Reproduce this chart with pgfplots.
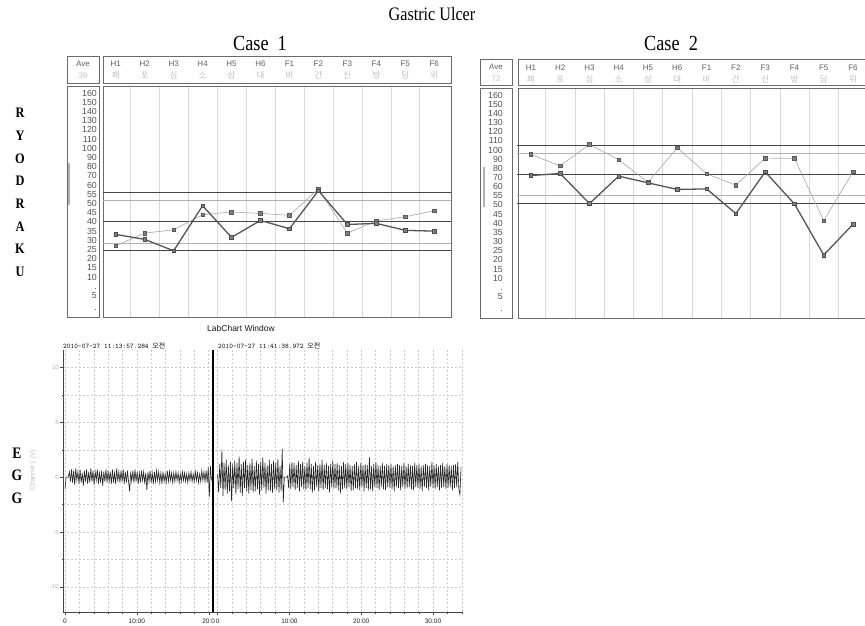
\documentclass[border=0pt]{standalone}
\usepackage{fontspec}
\setmainfont{Liberation Sans}
\newfontfamily\titlefont{Liberation Serif}[FakeStretch=0.85]
\newfontfamily\kr{Noto Sans CJK KR}
\usepackage{pgfplots}
\pgfplotsset{compat=1.18}
\definecolor{darkser}{HTML}{555555}
\definecolor{lightser}{HTML}{A8A8A8}
\definecolor{boxc}{HTML}{6A6A6A}
\newcommand{\hk}[2]{\textcolor{gray!75!black}{#1}\\\textcolor{gray!50}{\kr\fontsize{8.5}{8.5}\selectfont #2}}
\pgfplotsset{
  ryo/.style={
    scale only axis, anchor=south west,
    xmin=-0.44, xmax=11.58, ymin=-0.9, ymax=166.5,
    y coord trafo/.code={\pgfmathparse{##1>=60 ? 12+(##1-60)/10 : (##1>=10 ? ##1/5 : (2*##1-10)/5)}},
    axis line style={boxc, line width=1pt},
    major tick length=0pt, minor tick length=0pt,
    xtick={0,...,11},
    xticklabels={{\hk{H1}{폐}},{\hk{H2}{포}},{\hk{H3}{심}},{\hk{H4}{소}},{\hk{H5}{삼}},{\hk{H6}{대}},{\hk{F1}{비}},{\hk{F2}{간}},{\hk{F3}{신}},{\hk{F4}{방}},{\hk{F5}{담}},{\hk{F6}{위}}},
    xticklabel pos=upper,
    xticklabel style={font=\fontsize{8}{12}\selectfont, align=center, anchor=north, inner sep=0pt},
    minor xtick={0.5,1.5,...,10.5},
    xminorgrids, minor grid style={gray!30, line width=0.5pt},
    ytick={1.82,5,7.55,10,15,20,25,30,35,40,45,50,55,60,70,80,90,100,110,120,130,140,150,160},
    yticklabels={.,5,.,10,15,20,25,30,35,40,45,50,55,60,70,80,90,100,110,120,130,140,150,160},
    yticklabel style={font=\fontsize{8.8}{8.8}\selectfont, text=gray!65!black, anchor=east, inner sep=0pt, text height=6.3pt, text depth=0pt},
    clip=false,
  },
  darkl/.style={color=darkser, line width=1.3pt, mark=square*, mark size=1.8pt, mark options={fill=gray, draw=black!70, line width=0.5pt}},
  lightl/.style={color=lightser, line width=0.6pt, mark=square*, mark size=1.8pt, mark options={fill=gray, draw=black!65, line width=0.5pt}},
  darkref/.style={color=gray!55!black, line width=0.7pt, forget plot},
  lightref/.style={color=gray!60, line width=0.6pt, forget plot},
}
\begin{document}
\begin{tikzpicture}[x=1pt,y=1pt]
\path[use as bounding box] (0,0) rectangle (865,625);
\clip (0,0) rectangle (865,625);
\fill[white] (0,0) rectangle (865,625);

% Titles
\node[font=\titlefont\fontsize{19}{19}\selectfont] at (432,611) {Gastric Ulcer};
\node[font=\titlefont\fontsize{21.5}{21.5}\selectfont] at (260,582) {Case\ \ 1};
\node[font=\titlefont\fontsize{21.5}{21.5}\selectfont] at (671,582) {Case\ \ 2};

% RYODRAKU / EGG labels
\foreach \L [count=\i from 0] in {R,Y,O,D,R,A,K,U}
  \node[font=\titlefont\bfseries\fontsize{14.5}{14.5}\selectfont] at (20,{512-22.7*\i}) {\L};
\foreach \L [count=\i from 0] in {E,G,G}
  \node[font=\titlefont\bfseries\fontsize{16}{16}\selectfont] at (17,{172-22.5*\i}) {\L};

% ---------------- Case 1 ----------------
\begin{axis}[ryo, at={(103pt,308pt)}, width=348pt, height=230pt,
  yticklabel style={xshift=-6pt}, xticklabel style={yshift=26pt}]
\addplot[darkref] coordinates {(-0.44,55.8) (11.58,55.8)};
\addplot[lightref] coordinates {(-0.44,51.5) (11.58,51.5)};
\addplot[darkref] coordinates {(-0.44,40) (11.58,40)};
\addplot[lightref] coordinates {(-0.44,28.5) (11.58,28.5)};
\addplot[darkref] coordinates {(-0.44,24.2) (11.58,24.2)};
\addplot[lightl] coordinates {(0,26.9) (1,33.8) (2,35.6) (3,43.8) (4,45.3) (5,44.5) (6,43.5) (7,57.8) (8,33.8) (9,40.5) (10,42.7) (11,46.0)};
\addplot[darkl] coordinates {(0,33.1) (1,30.4) (2,24.2) (3,48.7) (4,31.5) (5,40.7) (6,36.2) (7,56.9) (8,38.5) (9,39.1) (10,35.3) (11,34.9)};
\end{axis}
\draw[boxc, line width=1pt] (67,541) rectangle (99,568);
\draw[boxc, line width=1pt] (103,541) rectangle (451,568);
\draw[boxc, line width=1pt] (67,308) rectangle (99,538);
\node[font=\fontsize{8}{8}\selectfont, text=gray!75!black] at (83,561) {Ave};
\node[font=\fontsize{8}{8}\selectfont, text=gray!45] at (83,549) {39};
\draw[gray!60, line width=1.5pt] (69,420) -- (69,462);

% ---------------- Case 2 ----------------
\begin{axis}[ryo, at={(518pt,307pt)}, width=352pt, height=229pt,
  yticklabel style={xshift=-15pt}, xticklabel style={yshift=24pt}]
\addplot[darkref] coordinates {(-0.46,104.9) (11.58,104.9)};
\addplot[lightref] coordinates {(-0.46,96.5) (11.58,96.5)};
\addplot[darkref] coordinates {(-0.46,73.1) (11.58,73.1)};
\addplot[lightref] coordinates {(-0.46,55) (11.58,55)};
\addplot[darkref] coordinates {(-0.46,50.9) (11.58,50.9)};
\addplot[lightl] coordinates {(0,95) (1,82.6) (2,106) (3,89.2) (4,64.7) (5,102.3) (6,73.9) (7,61.5) (8,91) (9,90.7) (10,41.4) (11,76)};
\addplot[darkl] coordinates {(0,72) (1,74.2) (2,50.7) (3,71.3) (4,64) (5,58.4) (6,58.7) (7,45.2) (8,76) (9,50.5) (10,22.6) (11,39.4)};
\end{axis}
\draw[boxc, line width=1pt] (480,539) rectangle (512,565);
\draw[boxc, line width=1pt] (518,539) rectangle (875,565);
\draw[boxc, line width=1pt] (480,307) rectangle (512,536);
\node[font=\fontsize{8}{8}\selectfont, text=gray!75!black] at (496,558) {Ave};
\node[font=\fontsize{8}{8}\selectfont, text=gray!45] at (496,546) {72};
\draw[gray!60, line width=1.5pt] (484,418) -- (484,458);

% ---------------- EGG ----------------
\node[font=\fontsize{8.5}{8.5}\selectfont, text=gray!20!black] at (241,297) {LabChart Window};
\node[font=\fontsize{6.5}{6.5}\selectfont, text=gray!50, rotate=90] at (33,155) {Channel 1 (V)};
\node[anchor=west, inner sep=0pt, font=\ttfamily\fontsize{7}{7}\selectfont, text=gray!10!black] at (63,279) {2010-07-27 11:13:57.284 {\kr 오전}};
\node[anchor=west, inner sep=0pt, font=\ttfamily\fontsize{7}{7}\selectfont, text=gray!10!black] at (218,279) {2010-07-27 11:41:38.972 {\kr 오전}};
\begin{axis}[at={(63pt,13pt)}, anchor=south west, scale only axis, width=400pt, height=262pt,
  xmin=-0.28, xmax=55.43, ymin=-12.3, ymax=11.6,
  axis x line*=bottom, axis y line*=left,
  axis line style={gray!55!black, line width=0.8pt, -},
  xtick={0,10,20,21.25,31.25,41.25,51.25},
  xticklabels={0,10:00,20:0,0,10:00,20:00,30:00},
  minor xtick={2,4,6,8,12,14,16,18,23.25,25.25,27.25,29.25,33.25,35.25,37.25,39.25,43.25,45.25,47.25,49.25,53.25,55.25},
  ytick={-10,-5,0,5,10}, minor ytick={-7.5,-2.5,2.5,7.5},
  grid=both, grid style={dash pattern=on 2pt off 2pt, gray!40, line width=0.4pt},
  major grid style={dash pattern=on 2pt off 2pt, gray!40, line width=0.4pt},
  tick style={gray!55!black}, major tick length=3pt, minor tick length=1.5pt,
  tick align=outside,
  /pgf/number format/assume math mode=true,
  xticklabel style={font=\fontsize{6.5}{6.5}\selectfont, text=gray!30!black},
  yticklabel style={font=\fontsize{6}{6}\selectfont, text=gray!60, inner sep=1pt},
  clip=false,
]
\addplot[color=black!85, line width=0.6pt] table[row sep=\\, x expr=\coordindex*0.15, y=y] {
y\\ -1.1\\ 0\\ 0\\ 0.02\\ 0.5\\ -0.4\\ 0.7\\ -0.5\\ 0.6\\ -0.7\\ 0.8\\ -0.3\\ 0.5\\ -0.6\\ 0.7\\ -0.5\\ 0.4\\ -0.8\\ 0.6\\ -0.4\\
0.7\\ -0.6\\ 0.5\\ -0.5\\ 0.8\\ -0.4\\ 0.6\\ -0.7\\ 0.5\\ -0.3\\ 0.7\\ -0.6\\ 0.4\\ -0.5\\ 0.6\\ -0.8\\ 0.5\\ -0.4\\ 0.7\\ -0.5\\
0.6\\ -0.4\\ 0.5\\ -0.6\\ 0.7\\ -0.5\\ 0.4\\ -0.6\\ 0.8\\ -0.4\\ 0.5\\ -0.5\\ 0.6\\ -0.4\\ 0.7\\ -0.6\\ 0.5\\ -0.5\\ 0.6\\ -0.4\\
-1.3\\ 0.5\\ -0.4\\ 0.6\\ -0.5\\ 0.7\\ -0.4\\ 0.5\\ -0.6\\ 0.4\\ -0.5\\ 0.6\\ -0.3\\ 0.5\\ -0.6\\ 0.4\\ -1.2\\ 0.5\\ -0.4\\ 0.6\\
-0.5\\ 0.4\\ -0.6\\ 0.5\\ -0.4\\ 0.6\\ -0.3\\ 0.5\\ -0.5\\ 0.4\\ -0.6\\ 0.5\\ -0.4\\ 0.3\\ -0.5\\ 0.6\\ -0.4\\ 0.5\\ -0.3\\ 0.4\\
-0.5\\ 0.4\\ -0.4\\ 0.5\\ -0.3\\ 0.4\\ -0.5\\ 0.3\\ -0.4\\ 0.5\\ -0.3\\ 0.4\\ -0.4\\ 0.3\\ -0.5\\ 0.4\\ -0.3\\ 0.5\\ -0.4\\ 0.3\\
-0.4\\ 0.5\\ -0.3\\ 0.4\\ -0.5\\ 0.3\\ -0.4\\ 0.6\\ -0.3\\ 0.5\\ -0.4\\ 0.6\\ -0.5\\ 0.9\\ -1.8\\ 1.0\\ -0.3\\
};
\addplot[color=black!85, line width=0.6pt] table[row sep=\\, x expr=21.25+\coordindex*0.15, y=y] {
y\\ 0.3\\ -1.4\\ 1.2\\ -1.0\\ 2.5\\ -1.7\\ 1.3\\ -1.2\\ 1.6\\ -1.5\\ 1.1\\ -1.3\\ 1.4\\ -2.2\\ 1.2\\ -1.0\\ 1.5\\ -1.6\\ 1.3\\ -1.1\\
1.9\\ -1.4\\ 1.2\\ -1.7\\ 1.4\\ -1.0\\ 1.6\\ -1.3\\ 1.1\\ -1.5\\ 1.3\\ -1.2\\ 1.7\\ -1.4\\ 1.0\\ -1.3\\ 1.5\\ -1.1\\ 1.2\\ -1.6\\
1.4\\ -1.2\\ 1.8\\ -1.0\\ 1.3\\ -1.5\\ 1.1\\ -1.2\\ 1.6\\ -1.3\\ 1.2\\ -1.4\\ 1.5\\ -1.1\\ 1.3\\ -1.2\\ 1.7\\ -1.4\\ 1.0\\ -1.3\\
2.6\\ -2.3\\ 0\\ 0\\ 0\\ 0.1\\ -1.0\\ 1.2\\ -1.1\\ 1.4\\ -0.9\\ 1.3\\ -1.2\\ 1.1\\ -1.0\\ 1.5\\ -1.3\\ 1.2\\ -0.9\\ 1.4\\
-1.1\\ 1.0\\ -1.2\\ 1.3\\ -1.0\\ 1.8\\ -1.1\\ 1.2\\ -1.4\\ 1.0\\ -1.2\\ 1.4\\ -0.9\\ 1.1\\ -1.3\\ 1.2\\ -1.0\\ 1.6\\ -1.2\\ 1.1\\
-1.0\\ 1.3\\ -1.1\\ 1.0\\ -1.4\\ 1.2\\ -0.9\\ 1.5\\ -1.1\\ 1.2\\ -1.0\\ 1.3\\ -1.2\\ 1.1\\ -1.5\\ 1.0\\ -1.1\\ 1.4\\ -1.0\\ 1.2\\
-1.1\\ 1.3\\ -0.9\\ 1.1\\ -1.3\\ 1.0\\ -1.2\\ 1.2\\ -1.0\\ 1.4\\ -1.1\\ 1.0\\ -1.2\\ 1.3\\ -0.9\\ 1.1\\ -1.3\\ 1.2\\ -1.0\\ 1.1\\
-1.2\\ 1.8\\ -1.1\\ 1.0\\ -1.3\\ 1.2\\ -0.9\\ 1.4\\ -1.0\\ 1.1\\ -1.2\\ 1.0\\ -0.9\\ 1.3\\ -1.1\\ 1.0\\ -1.2\\ 1.2\\ -0.9\\ 1.1\\
-1.0\\ 1.2\\ -1.1\\ 1.0\\ -1.3\\ 1.1\\ -0.9\\ 1.2\\ -1.0\\ 1.1\\ -1.2\\ 1.0\\ -0.9\\ 1.3\\ -1.1\\ 1.0\\ -1.0\\ 1.2\\ -0.9\\ 1.1\\
-1.1\\ 1.0\\ -1.2\\ 1.3\\ -0.9\\ 1.1\\ -1.0\\ 1.2\\ -1.1\\ 1.0\\ -1.3\\ 1.1\\ -0.9\\ 1.2\\ -1.0\\ 1.1\\ -1.2\\ 1.0\\ -0.9\\ 1.4\\
-1.0\\ 1.1\\ -1.1\\ 1.2\\ -0.9\\ 1.0\\ -1.2\\ 1.1\\ -1.0\\ 1.3\\ -0.9\\ 1.0\\ -1.1\\ 1.2\\ -1.0\\ 1.1\\ -0.9\\ 1.0\\ -1.2\\ 1.1\\
-1.0\\ 1.2\\ -0.9\\ 1.4\\ -1.1\\ -1.6\\ 0.9\\
};
\draw[black, line width=2.6pt] (axis cs:20.6,-12.3) -- (axis cs:20.6,11.6);
\end{axis}
\end{tikzpicture}
\end{document}
